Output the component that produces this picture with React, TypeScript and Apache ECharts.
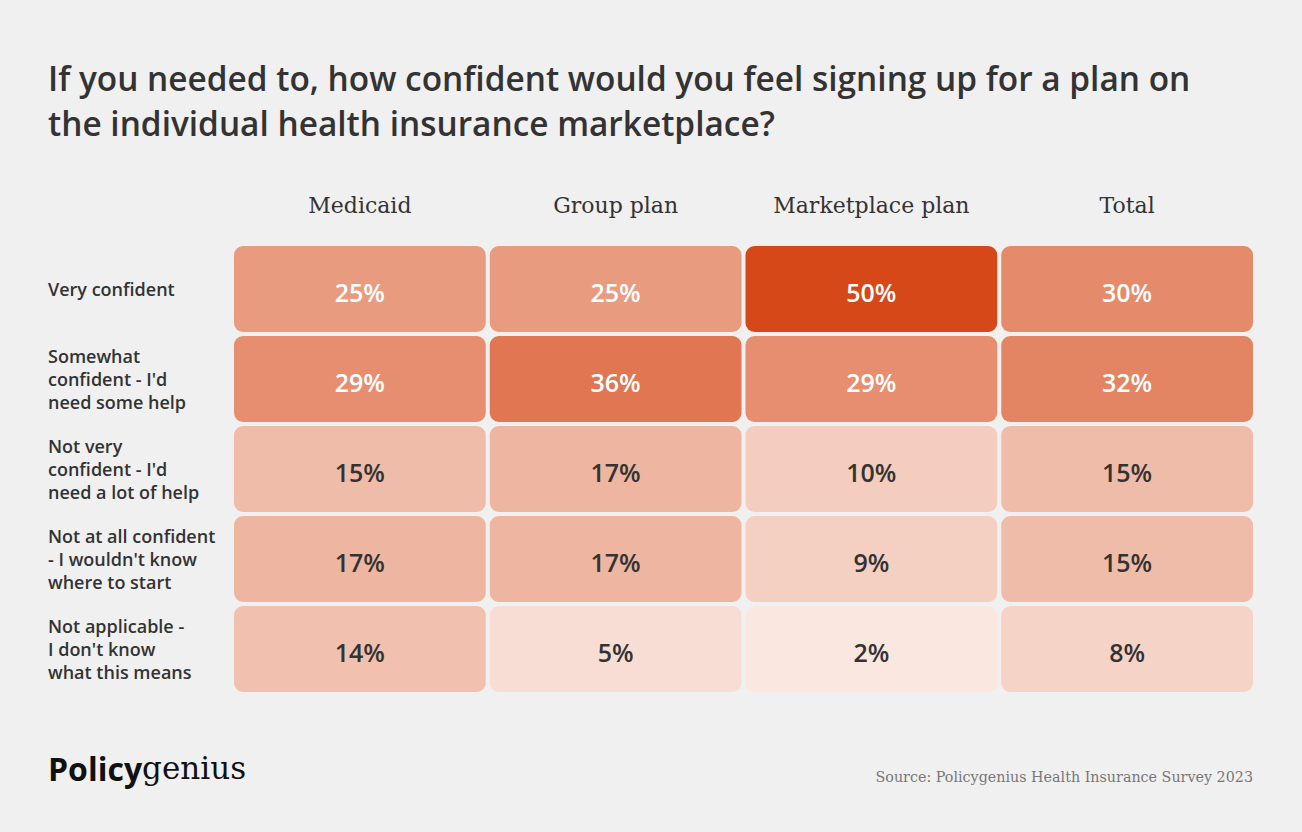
import React, { useEffect, useRef } from "react";
import * as echarts from "echarts";

const titleLines = [
  "If you needed to, how confident would you feel signing up for a plan on",
  "the individual health insurance marketplace?",
];
const columns = ["Medicaid", "Group plan", "Marketplace plan", "Total"];
const rows = [
  "Very confident",
  "Somewhat\nconfident - I'd\nneed some help",
  "Not very\nconfident - I'd\nneed a lot of help",
  "Not at all confident\n- I wouldn't know\nwhere to start",
  "Not applicable -\nI don't know\nwhat this means",
];
const medicaid = [25, 29, 15, 17, 14];
const groupPlan = [25, 36, 17, 17, 5];
const marketplacePlan = [50, 29, 10, 9, 2];
const total = [30, 32, 15, 15, 8];
const sourceText = "Source: Policygenius Health Insurance Survey 2023";

const SANS = "'Open Sans', 'Noto Sans', sans-serif";
const SERIF = "'DejaVu Serif', 'Liberation Serif', serif";

export default function App() {
  const ref = useRef<HTMLDivElement>(null);
  useEffect(() => {
    if (!ref.current) return;
    const chart = echarts.init(ref.current, null, { renderer: "svg" });
    const cols = [medicaid, groupPlan, marketplacePlan, total];
    const data: number[][] = [];
    cols.forEach((vals, ci) => vals.forEach((v, ri) => data.push([ci, ri, v])));

    chart.setOption({
      animation: false,
      backgroundColor: "#F0F0F0",
      title: {
        text: titleLines.join("\n"),
        left: 48,
        top: 55,
        padding: 0,
        textStyle: {
          fontFamily: SANS,
          fontWeight: 600,
          fontSize: 33.4,
          lineHeight: 45,
          color: "#333333",
        },
      },
      grid: { left: 232, right: 47, top: 244, height: 450 },
      xAxis: {
        type: "category",
        position: "top",
        data: columns,
        axisLine: { show: false },
        axisTick: { show: false },
        splitLine: { show: false },
        axisLabel: {
          margin: 28,
          fontFamily: SERIF,
          fontSize: 22,
          color: "#333333",
        },
      },
      yAxis: {
        type: "category",
        inverse: true,
        data: rows,
        axisLine: { show: false },
        axisTick: { show: false },
        splitLine: { show: false },
        axisLabel: {
          align: "left",
          margin: 184,
          fontFamily: SANS,
          fontWeight: 600,
          fontSize: 18,
          lineHeight: 23,
          color: "#333333",
        },
      },
      visualMap: {
        show: false,
        type: "continuous",
        min: 0,
        max: 50,
        dimension: 2,
        inRange: { color: ["#FBEEE8", "#D64818"] },
      },
      series: [
        {
          type: "custom",
          data,
          encode: { x: 0, y: 1 },
          renderItem: (params: any, api: any) => {
            const v = api.value(2);
            const c = api.coord([api.value(0), api.value(1)]);
            const s = api.size([1, 1]);
            return {
              type: "rect",
              shape: {
                x: c[0] - s[0] / 2 + 2,
                y: c[1] - s[1] / 2 + 2,
                width: s[0] - 4,
                height: s[1] - 4,
                r: 9,
              },
              style: { fill: api.visual("color") },
              textContent: {
                type: "text",
                style: {
                  text: v + "%",
                  fill: v >= 25 ? "#FFFFFF" : "#333333",
                  fontFamily: SANS,
                  fontWeight: 600,
                  fontSize: 25,
                },
              },
              textConfig: { position: "inside", offset: [0, 3] },
            };
          },
        },
      ],
      graphic: [
        {
          type: "text",
          left: 48,
          top: 752,
          style: {
            text: "{a|Policy}{b|genius}",
            rich: {
              a: {
                fontFamily: SANS,
                fontWeight: "bold",
                fontSize: 32,
                fill: "#111111",
              },
              b: {
                fontFamily: SERIF,
                fontSize: 31,
                fill: "#111111",
              },
            },
          },
        },
        {
          type: "text",
          right: 49,
          top: 770,
          style: {
            text: sourceText,
            fontFamily: SERIF,
            fontSize: 14.3,
            fill: "#777777",
          },
        },
      ],
    });
    return () => chart.dispose();
  }, []);
  return (
    <div
      ref={ref}
      style={{ position: "fixed", left: 0, top: 0, width: 1302, height: 832 }}
    />
  );
}
